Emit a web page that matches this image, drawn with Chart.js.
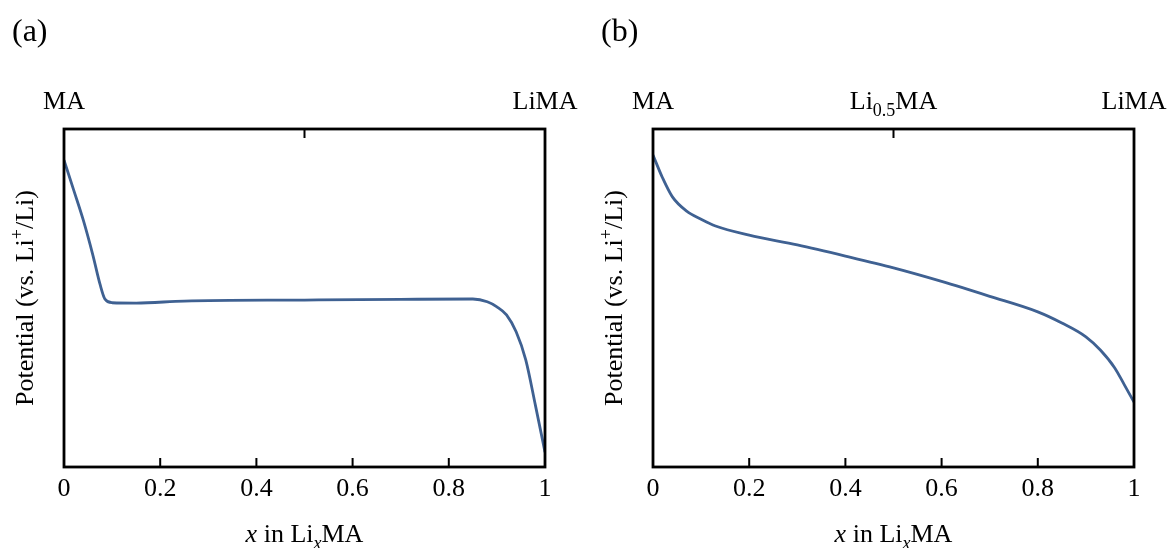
<!DOCTYPE html>
<html>
<head>
<meta charset="UTF-8">
<title>Potential curves</title>
<script src="https://cdn.jsdelivr.net/npm/chart.js"></script>
<style>
    body { margin: 0; background: #fff; }
    .panel { position: absolute; top: 0; height: 548px; }
    #pa { left: 0; width: 583px; }
    #pb { left: 583px; width: 584px; }
</style>
</head>
<body>
<div class="panel" id="pa"><canvas id="chartA"></canvas></div>
<div class="panel" id="pb"><canvas id="chartB"></canvas></div>
<script>
// x = Li content, y = potential in arbitrary units (0 = bottom, 1 = top of frame)
const xTicks = [0, 0.2, 0.4, 0.6, 0.8, 1];

const xA = [0, 0.02, 0.04, 0.06, 0.075, 0.085, 0.1, 0.15, 0.25, 0.5, 0.7, 0.85, 0.88, 0.9, 0.92, 0.94, 0.96, 0.98, 1];
const yA = [0.908, 0.82, 0.731, 0.627, 0.54, 0.497, 0.486, 0.485, 0.491, 0.494, 0.496, 0.497, 0.489, 0.474, 0.45, 0.40, 0.317, 0.183, 0.044];

const xB = [0, 0.02, 0.04, 0.07, 0.1, 0.13, 0.2, 0.3, 0.4, 0.5, 0.6, 0.7, 0.8, 0.85, 0.9, 0.93, 0.96, 0.98, 1];
const yB = [0.923, 0.855, 0.8, 0.757, 0.733, 0.713, 0.686, 0.657, 0.624, 0.589, 0.549, 0.505, 0.459, 0.426, 0.385, 0.346, 0.293, 0.243, 0.192];

// top composition labels: [x position, text pieces]  (n normal, s subscript)
const topLabelsA = [[0, [['MA', 'n']]], [1, [['LiMA', 'n']]]];
const topLabelsB = [[0, [['MA', 'n']]], [0.5, [['Li', 'n'], ['0.5', 's'], ['MA', 'n']]], [1, [['LiMA', 'n']]]];
const topTicks = [0.5];

const xTitle = [['x', 'i'], [' in Li', 'n'], ['x', 'si'], ['MA', 'n']];
const yTitle = [['Potential (vs. Li', 'n'], ['+', 'p'], ['/Li)', 'n']];

const SERIF = '"Liberation Serif", "Times New Roman", serif';
const FS = 26;
const lineColor = '#3f6192';

function pieceFont(style, size) {
    const small = style.indexOf('s') >= 0 || style === 'p';
    const it = style.indexOf('i') >= 0 ? 'italic ' : '';
    return it + (small ? Math.round(size * 0.68) : size) + 'px ' + SERIF;
}

function drawRich(ctx, parts, cx, base, size) {
    let w = 0;
    parts.forEach(p => { ctx.font = pieceFont(p[1], size); w += ctx.measureText(p[0]).width; });
    let x = cx - w / 2;
    ctx.textAlign = 'left';
    ctx.textBaseline = 'alphabetic';
    parts.forEach(p => {
        ctx.font = pieceFont(p[1], size);
        let dy = 0;
        if (p[1].indexOf('s') >= 0) dy = size * 0.28;
        if (p[1] === 'p') dy = -size * 0.4;
        ctx.fillText(p[0], x, base + dy);
        x += ctx.measureText(p[0]).width;
    });
}

function framePlugin(letter, topLabels) {
    return {
        id: 'frame',
        afterDraw(chart) {
            const ctx = chart.ctx, a = chart.chartArea, xs = chart.scales.x;
            ctx.save();
            ctx.fillStyle = '#000';
            ctx.strokeStyle = '#000';
            // frame
            ctx.lineWidth = 2.8;
            ctx.strokeRect(a.left, a.top, a.right - a.left, a.bottom - a.top);
            // inward ticks
            ctx.lineWidth = 2;
            ctx.beginPath();
            xTicks.slice(1, -1).forEach(v => {
                const px = xs.getPixelForValue(v);
                ctx.moveTo(px, a.bottom); ctx.lineTo(px, a.bottom - 9);
            });
            topTicks.forEach(v => {
                const px = xs.getPixelForValue(v);
                ctx.moveTo(px, a.top); ctx.lineTo(px, a.top + 9);
            });
            ctx.stroke();
            // composition labels above the frame
            topLabels.forEach(l => drawRich(ctx, l[1], xs.getPixelForValue(l[0]), a.top - 20, FS));
            // axis titles
            drawRich(ctx, xTitle, (a.left + a.right) / 2, 542, FS);
            ctx.save();
            ctx.translate(a.left - 31, (a.top + a.bottom) / 2);
            ctx.rotate(-Math.PI / 2);
            drawRich(ctx, yTitle, 0, 0, FS);
            ctx.restore();
            // panel letter
            ctx.font = '32px ' + SERIF;
            ctx.textAlign = 'left';
            ctx.fillText(letter, a.left - 52, 41);
            ctx.restore();
        }
    };
}

function makeChart(id, xs, ys, pad, letter, topLabels) {
    new Chart(document.getElementById(id), {
        type: 'line',
        data: {
            datasets: [{
                data: xs.map((x, i) => ({ x: x, y: ys[i] })),
                borderColor: lineColor,
                borderWidth: 2.8,
                pointRadius: 0,
                cubicInterpolationMode: 'monotone',
                fill: false
            }]
        },
        options: {
            responsive: true,
            maintainAspectRatio: false,
            animation: false,
            layout: { padding: pad },
            plugins: { legend: { display: false }, tooltip: { enabled: false } },
            scales: {
                x: {
                    type: 'linear',
                    min: 0,
                    max: 1,
                    afterBuildTicks: s => { s.ticks = xTicks.map(v => ({ value: v })); },
                    afterFit: s => { s.height = 81; },
                    grid: { display: false, drawTicks: false },
                    border: { display: false },
                    ticks: {
                        padding: 7,
                        color: '#000',
                        maxRotation: 0,
                        autoSkip: false,
                        font: { family: SERIF, size: FS },
                        callback: v => String(v)
                    }
                },
                y: { display: false, min: 0, max: 1 }
            }
        },
        plugins: [framePlugin(letter, topLabels)]
    });
}

makeChart('chartA', xA, yA, { left: 64, right: 38, top: 129, bottom: 0 }, '(a)', topLabelsA);
makeChart('chartB', xB, yB, { left: 70, right: 33, top: 129, bottom: 0 }, '(b)', topLabelsB);
</script>
</body>
</html>
